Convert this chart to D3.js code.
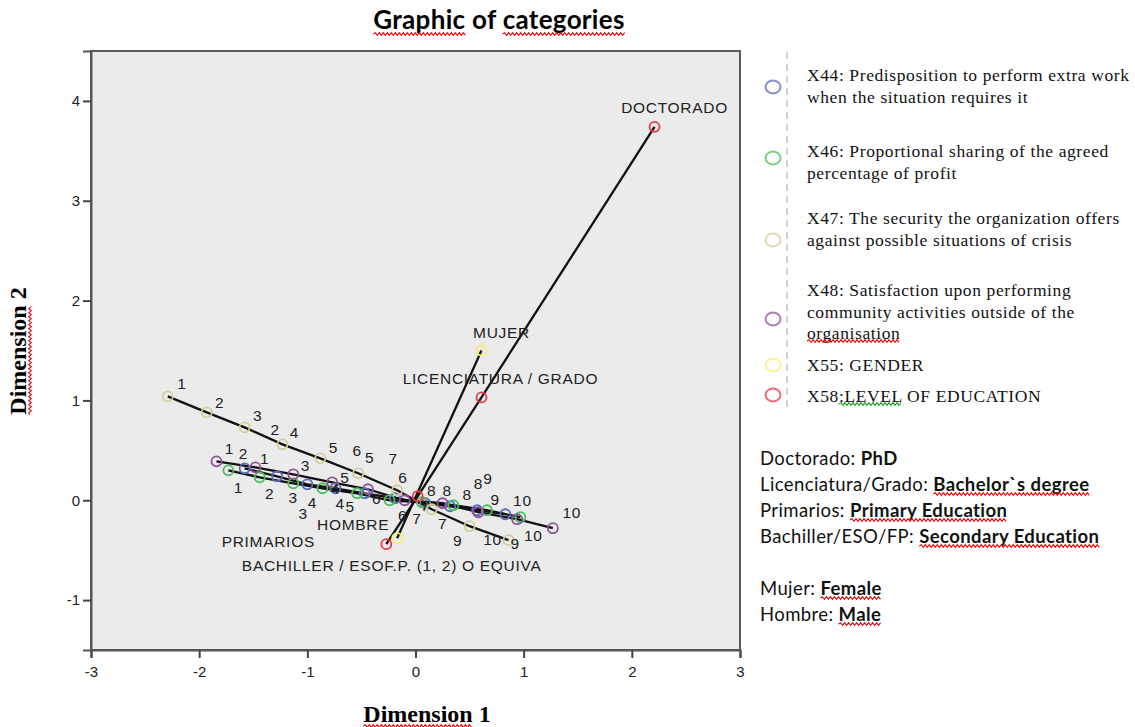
<!DOCTYPE html>
<html><head><meta charset="utf-8">
<script src="https://cdn.jsdelivr.net/npm/d3@7"></script>
<style>body{margin:0;background:#fff} svg{display:block}</style>
</head><body><svg id="c" width="1135" height="727"></svg>
<script>
// ---------- data ----------
const xTicks = [-3, -2, -1, 0, 1, 2, 3];
const yTicks = [-1, 0, 1, 2, 3, 4];
const catNums = ["1","2","3","4","5","6","7","8","9","10"];

const x44X = [-1.58,-1.28,-1.00,-0.74,-0.47,-0.19,0.09,0.32,0.57,0.83];
const x44Y = [0.32,0.24,0.16,0.12,0.07,0.02,-0.03,-0.06,-0.10,-0.14];
const x46X = [-1.73,-1.44,-1.13,-0.86,-0.54,-0.24,0.06,0.35,0.66,0.97];
const x46Y = [0.30,0.23,0.17,0.12,0.07,0.00,-0.02,-0.05,-0.10,-0.17];
const x47X = [-2.29,-1.93,-1.58,-1.23,-0.88,-0.53,-0.17,0.15,0.50,0.86];
const x47Y = [1.04,0.88,0.73,0.56,0.42,0.27,0.10,-0.09,-0.26,-0.40];
const x48X = [-1.84,-1.48,-1.13,-0.77,-0.44,-0.10,0.25,0.58,0.94,1.27];
const x48Y = [0.39,0.33,0.26,0.18,0.11,0.00,-0.03,-0.12,-0.19,-0.28];

const genderCats = ["HOMBRE", "MUJER"];
const x55X = [-0.17, 0.61];
const x55Y = [-0.38, 1.50];

const eduCats = ["PRIMARIOS", "BACHILLER / ESOF.P. (1, 2) O EQUIVA", "LICENCIATURA / GRADO", "DOCTORADO"];
const x58X = [-0.27, 0.02, 0.61, 2.21];
const x58Y = [-0.44, 0.04, 1.03, 3.74];

const legendNames = [
  ["X44: Predisposition to perform extra work", "when the situation requires it"],
  ["X46: Proportional sharing of the agreed", "percentage of profit"],
  ["X47: The security the organization offers", "against possible situations of crisis"],
  ["X48: Satisfaction upon performing", "community activities outside of the", "organisation"],
  ["X55: GENDER"],
  ["X58:LEVEL OF EDUCATION"]
];

const glossary = [
  [{t:"Doctorado: "},{t:"PhD",b:1}],
  [{t:"Licenciatura/Grado: "},{t:"Bachelor`s degree",b:1,sq:1}],
  [{t:"Primarios: "},{t:"Primary Education",b:1,sq:1}],
  [{t:"Bachiller/ESO/FP: "},{t:"Secondary Education",b:1,sq:1}],
  null,
  [{t:"Mujer: "},{t:"Female",b:1,sq:1}],
  [{t:"Hombre: "},{t:"Male",b:1,sq:1}]
];

// ---------- label layout (pixel offsets from each point) ----------
const off44 = [[20,-10],[-2,-47],[-2,-19],[0,0],[5,-36],[8,-21],[0,2],[17,-12],[18,-11],[28,21]];
const off46 = [[10,17],[10,16],[0,14],[-10,14],[-7,13],[-13,-2],[-5,16],[25,-22],[1,-32],[2,-17]];
const off47 = [[14,-13],[13,-10],[13,-12],[12,-12],[13,-11],[-1,-23],[-4,-32],[0,-19],[-12,14],[-16,-1]];
const off48 = [[13,-13],[-12,-14],[10,39],[8,21],[-23,-12],[-2,15],[0,20],[-31,-22],[-2,24],[19,-16]];
const off55 = [[-44,-14],[20,-18]];
const off58 = [[-118,-3],[-26,69],[19,-19],[20,-19]];

// ---------- styles ----------
const colors = {x44:"#5a6bc0", x46:"#4cbf5c", x47:"#d3ce97", x48:"#8f519a", x55:"#f3f06a", x58:"#ea3a45"};

const series = [
  {key:"x44", xs:x44X, ys:x44Y, labels:catNums, off:off44},
  {key:"x46", xs:x46X, ys:x46Y, labels:catNums, off:off46},
  {key:"x47", xs:x47X, ys:x47Y, labels:catNums, off:off47},
  {key:"x48", xs:x48X, ys:x48Y, labels:catNums, off:off48},
  {key:"x55", xs:x55X, ys:x55Y, labels:genderCats, off:off55},
  {key:"x58", xs:x58X, ys:x58Y, labels:eduCats, off:off58}
];

const svg = d3.select("#c");
const L = 91, R = 740, T = 51, B = 650;
const x = d3.scaleLinear().domain([-3, 3]).range([L, R]);
const y = d3.scaleLinear().domain([-1.5, 4.5]).range([B, T]);

function squiggle(g, x1, x2, yy, color) {
  let d = `M${x1},${yy}`, up = true;
  for (let xx = x1 + 2; xx <= x2; xx += 2) { d += `L${xx},${yy + (up ? -1.3 : 1.3)}`; up = !up; }
  g.append("path").attr("d", d).attr("fill", "none").attr("stroke", color).attr("stroke-width", 1.1);
}

// plot background + frame
svg.append("rect").attr("x", L).attr("y", T).attr("width", R - L).attr("height", B - T)
  .attr("fill", "#ebebeb").attr("stroke", "#5a5a5a").attr("stroke-width", 2);

// axes
const ax = svg.append("g").attr("transform", `translate(0,${B})`)
  .call(d3.axisBottom(x).tickValues(xTicks).tickSize(8).tickPadding(8).tickFormat(d3.format("d")));
const ay = svg.append("g").attr("transform", `translate(${L},0)`)
  .call(d3.axisLeft(y).tickValues(yTicks).tickSize(8).tickPadding(3).tickFormat(d3.format("d")));
[ax, ay].forEach(a => {
  a.select(".domain").attr("stroke", "#555").attr("stroke-width", 2);
  a.selectAll(".tick line").attr("stroke", "#444").attr("stroke-width", 2);
  a.selectAll(".tick text").attr("fill", "#222").style("font-family", "Liberation Sans, Arial, sans-serif")
    .style("font-size", "15px");
});
ay.selectAll(".tick text").text(d => d < 0 ? "-" + Math.abs(d) : d);
ax.selectAll(".tick text").text(d => d < 0 ? "-" + Math.abs(d) : d);

// clip
svg.append("clipPath").attr("id", "clip").append("rect")
  .attr("x", L).attr("y", T).attr("width", R - L).attr("height", B - T);
const plot = svg.append("g").attr("clip-path", "url(#clip)");

const line = d3.line().x(d => x(d[0])).y(d => y(d[1]));

// lines
series.forEach(s => {
  const pts = s.xs.map((v, i) => [v, s.ys[i]]);
  plot.append("path").attr("d", line(pts)).attr("fill", "none")
    .attr("stroke", "#111").attr("stroke-width", 2.3);
});
// circles
series.forEach(s => {
  plot.selectAll(null).data(s.xs.map((v, i) => [v, s.ys[i]])).enter().append("circle")
    .attr("cx", d => x(d[0])).attr("cy", d => y(d[1])).attr("r", 5)
    .attr("fill", "none").attr("stroke", colors[s.key]).attr("stroke-width", 1.8);
});
// labels
series.forEach(s => {
  plot.selectAll(null).data(s.xs.map((v, i) => ({x: v, y: s.ys[i], t: s.labels[i], o: s.off[i]})))
    .enter().append("text")
    .attr("x", d => x(d.x) + d.o[0]).attr("y", d => y(d.y) + d.o[1]).attr("dy", "0.36em")
    .attr("text-anchor", "middle")
    .style("font-family", "Liberation Sans, Arial, sans-serif").style("font-size", "15.5px")
    .style("letter-spacing", "0.7px").attr("fill", "#222")
    .text(d => d.t);
});

// title
const title = svg.append("text").attr("x", 499).attr("y", 29).attr("text-anchor", "middle")
  .style("font-family", "Lato, sans-serif").style("font-weight", "bold").style("font-size", "26px")
  .style("letter-spacing", "0.3px").attr("fill", "#000").text("Graphic of categories");
{
  const n = title.node();
  squiggle(svg, n.getStartPositionOfChar(0).x, n.getEndPositionOfChar(6).x, 34, "#e00");
  squiggle(svg, n.getStartPositionOfChar(11).x, n.getEndPositionOfChar(20).x, 34, "#e00");
}

// axis titles
const xt = svg.append("text").attr("x", 427).attr("y", 722).attr("text-anchor", "middle")
  .style("font-family", "Liberation Serif, Times New Roman, serif").style("font-weight", "bold")
  .style("font-size", "24px").attr("fill", "#000").text("Dimension 1");
{
  const n = xt.node();
  squiggle(svg, n.getStartPositionOfChar(0).x, n.getEndPositionOfChar(8).x, 726, "#e00");
}
const yg = svg.append("g").attr("transform", "translate(26,351) rotate(-90)");
const yt = yg.append("text").attr("x", 0).attr("y", 0).attr("text-anchor", "middle")
  .style("font-family", "Liberation Serif, Times New Roman, serif").style("font-weight", "bold")
  .style("font-size", "24px").attr("fill", "#000").text("Dimension 2");
{
  const n = yt.node();
  squiggle(yg, n.getStartPositionOfChar(0).x, n.getEndPositionOfChar(8).x, 4, "#e00");
}

// legend
const lg = svg.append("g");
lg.append("line").attr("x1", 787).attr("x2", 787).attr("y1", 52).attr("y2", 410)
  .attr("stroke", "#c4c4c4").attr("stroke-width", 1.5).attr("stroke-dasharray", "7,5");
const legKeys = ["x44", "x46", "x47", "x48", "x55", "x58"];
const legCircleY = [87, 158, 240, 319, 365, 395];
const legTextY = [75, 151, 218, 290, 365, 396];
legKeys.forEach((k, i) => {
  lg.append("ellipse").attr("cx", 773).attr("cy", legCircleY[i]).attr("rx", 7.5).attr("ry", 6.5)
    .attr("fill", "none").attr("stroke", colors[k]).attr("stroke-width", 2).attr("opacity", 0.75);
  legendNames[i].forEach((ln, j) => {
    const t = lg.append("text").attr("x", 807).attr("y", legTextY[i] + j * 21.5).attr("dy", "0.35em")
      .style("font-family", "Liberation Serif, Times New Roman, serif").style("font-size", "17.5px")
      .style("letter-spacing", "0.6px").attr("fill", "#111").text(ln);
    if (ln === "organisation") {
      const n = t.node();
      squiggle(lg, n.getStartPositionOfChar(0).x, n.getEndPositionOfChar(ln.length - 1).x, legTextY[i] + j * 21.5 + 8, "#e00");
    }
    if (k === "x58") {
      const n = t.node();
      squiggle(lg, n.getStartPositionOfChar(3).x, n.getEndPositionOfChar(8).x, legTextY[i] + 8, "#1a9a1a");
    }
  });
});

// glossary
const gy0 = 459, gstep = 26;
glossary.forEach((row, i) => {
  if (!row) return;
  const yy = gy0 + i * gstep;
  const t = svg.append("text").attr("x", 760).attr("y", yy).attr("dy", "0.35em")
    .style("font-family", "Lato, sans-serif").style("font-size", "18.5px")
    .style("letter-spacing", "0.4px").attr("fill", "#111");
  row.forEach(p => t.append("tspan").style("font-weight", p.b ? "bold" : "normal").text(p.t));
  const n = t.node();
  let idx = 0;
  row.forEach(p => {
    if (p.sq) squiggle(svg, n.getStartPositionOfChar(idx).x, n.getEndPositionOfChar(idx + p.t.length - 1).x, yy + 9, "#e00");
    idx += p.t.length;
  });
});
</script></body></html>
